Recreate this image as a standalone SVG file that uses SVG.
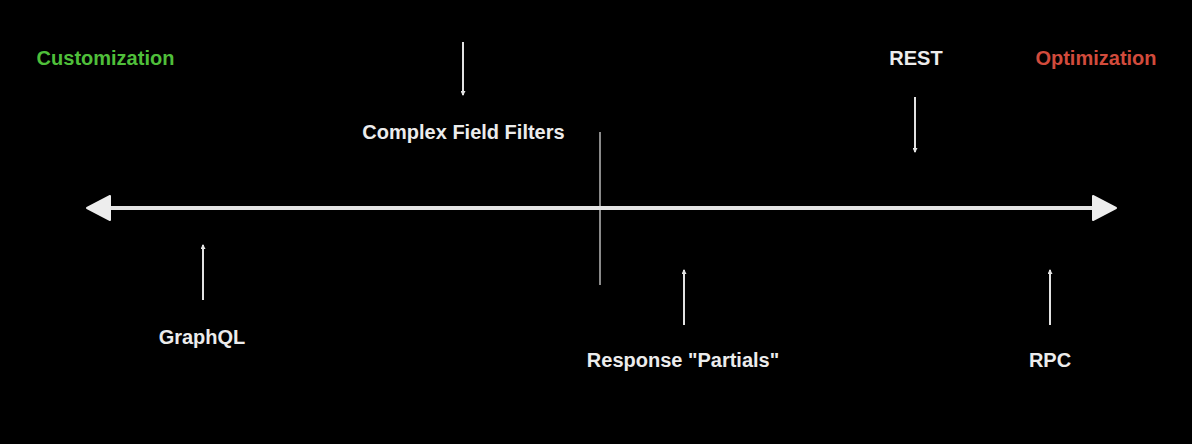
<svg xmlns="http://www.w3.org/2000/svg" width="1192" height="444" viewBox="0 0 1192 444">
  <defs>
    <style>
      .lbl { font-family: "Liberation Sans", Arial, Helvetica, sans-serif; font-weight: bold; font-size: 20px; fill: #ececec; text-anchor: middle; }
      .ptr { stroke: #e2e2e2; stroke-width: 2; fill: none; }
    </style>
    <marker id="tip" viewBox="0 0 10 10" refX="8" refY="5" markerWidth="2.5" markerHeight="2.5" orient="auto" markerUnits="strokeWidth">
      <path d="M0,0 L10,5 L0,10 z" fill="#e2e2e2"/>
    </marker>
  </defs>
  <rect x="0" y="0" width="1192" height="444" fill="#000"/>

  <g id="connectors">
    <line id="divider" x1="600" y1="132" x2="600" y2="285" stroke="#8a8a8a" stroke-width="2"/>
    <g id="axis">
      <line x1="105" y1="208" x2="1097" y2="208" stroke="#e4e4e4" stroke-width="4"/>
      <path d="M87,208 L110,196 L110,220 Z" fill="#ededed" stroke="#ededed" stroke-width="2" stroke-linejoin="round"/>
      <path d="M1116,208 L1093,196 L1093,220 Z" fill="#ededed" stroke="#ededed" stroke-width="2" stroke-linejoin="round"/>
    </g>
    <line class="ptr" x1="463" y1="42" x2="463" y2="95" marker-end="url(#tip)"/>
    <line class="ptr" x1="915" y1="97" x2="915" y2="152" marker-end="url(#tip)"/>
    <line class="ptr" x1="203" y1="300" x2="203" y2="245" marker-end="url(#tip)"/>
    <line class="ptr" x1="684" y1="325" x2="684" y2="270" marker-end="url(#tip)"/>
    <line class="ptr" x1="1050" y1="325" x2="1050" y2="270" marker-end="url(#tip)"/>
  </g>

  <g id="customization"><text class="lbl" x="105.5" y="65" style="fill:#4fbf3a">Customization</text></g>
  <g id="optimization"><text class="lbl" x="1096" y="65" style="fill:#d24b3c">Optimization</text></g>
  <g id="complex-field-filters"><text class="lbl" x="463.5" y="139">Complex Field Filters</text></g>
  <g id="rest"><text class="lbl" x="916" y="65">REST</text></g>
  <g id="graphql"><text class="lbl" x="202" y="344">GraphQL</text></g>
  <g id="response-partials"><text class="lbl" x="683" y="367">Response "Partials"</text></g>
  <g id="rpc"><text class="lbl" x="1050" y="367">RPC</text></g>
</svg>
